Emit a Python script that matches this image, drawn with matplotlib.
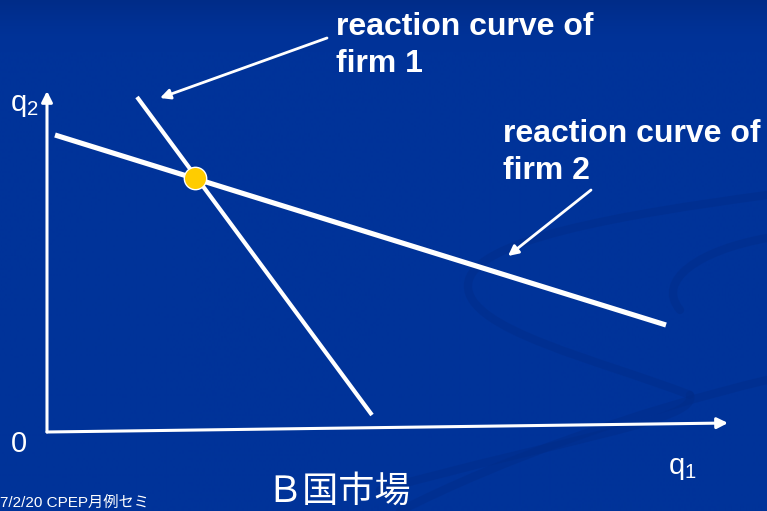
import numpy as np
import matplotlib
matplotlib.use('Agg')
import matplotlib.pyplot as plt
from matplotlib.path import Path
from matplotlib.patches import PathPatch

plt.rcParams['font.family'] = ['Liberation Sans', 'Noto Sans CJK JP', 'DejaVu Sans']
plt.rcParams['mathtext.fontset'] = 'custom'
plt.rcParams['mathtext.rm'] = 'Liberation Sans'
plt.rcParams['mathtext.it'] = 'Liberation Sans'

# diagram positions (slide pixel grid, y grows downward)
origin = (47, 432)
q1_axis_end = (728, 423)
q2_axis_end = (47, 91)

firm1_x = [137, 372]
firm1_y = [97, 415]
firm2_x = [55, 666]
firm2_y = [135, 325]

nash_x = [195]
nash_y = [178]

label1_lines = ['reaction curve of', 'firm 1']
label2_lines = ['reaction curve of', 'firm 2']
pointer1 = [(327, 38), (160, 98)]
pointer2 = [(591, 190), (508, 256)]

title_text = 'Ｂ国市場'
footer_text = '7/2/20 CPEP月例セミ'

BG = '#003399'
SWIRL = '#002c88'

fig = plt.figure(figsize=(7.67, 5.11), dpi=100)
ax = fig.add_axes([0, 0, 1, 1])
ax.set_xlim(0, 767)
ax.set_ylim(511, 0)
ax.axis('off')

# background: slightly darker shade at the very top of the slide
top = np.array([0, 44, 136]) / 255
mid = np.array([0, 51, 153]) / 255
t = np.clip(np.linspace(0, 1, 512) / 0.1, 0, 1)
t = np.sin(t * np.pi / 2)[:, None]
grad = (top * (1 - t) + mid * t)[:, None, :]
ax.imshow(np.repeat(grad, 2, axis=1), extent=[0, 767, 511, 0], aspect='auto',
          interpolation='bilinear', zorder=0)

# faint swirl decoration
swirls = [
    [(767, 195), (620, 215), (470, 240), (468, 285), (466, 330), (600, 360), (690, 395)],
    [(690, 395), (700, 420), (560, 440), (380, 490)],
    [(767, 238), (700, 250), (655, 280), (680, 310)],
    [(767, 380), (640, 410), (500, 460), (400, 511)],
]
for pts in swirls:
    n = len(pts)
    codes = [Path.MOVETO] + [Path.CURVE4] * (n - 1)
    ax.add_patch(PathPatch(Path(pts, codes), fill=False, edgecolor=SWIRL,
                           lw=6, alpha=0.45, capstyle='round', zorder=1))

# axes of the diagram
ax.annotate('', xy=q1_axis_end, xytext=origin,
            arrowprops=dict(arrowstyle='-|>', color='white', lw=2.2,
                            mutation_scale=16, shrinkA=0, shrinkB=0), zorder=3)
ax.annotate('', xy=q2_axis_end, xytext=origin,
            arrowprops=dict(arrowstyle='-|>', color='white', lw=2.2,
                            mutation_scale=16, shrinkA=0, shrinkB=0), zorder=3)

# reaction curves
ax.plot(firm1_x, firm1_y, color='white', lw=3.0, solid_capstyle='butt', zorder=3)
ax.plot(firm2_x, firm2_y, color='white', lw=3.7, solid_capstyle='butt', zorder=3)
ax.scatter(nash_x, nash_y, s=260, color='#FFCC00', edgecolor='white', lw=1.0, zorder=4)

# pointers to the labels
for tail, head in (pointer1, pointer2):
    ax.annotate('', xy=head, xytext=tail,
                arrowprops=dict(arrowstyle='-|>', color='white', lw=2.0,
                                mutation_scale=15, shrinkA=0, shrinkB=0), zorder=3)

ax.text(336, 35, label1_lines[0], color='white', fontsize=23, fontweight='bold', va='baseline')
ax.text(336, 72, label1_lines[1], color='white', fontsize=23, fontweight='bold', va='baseline')
ax.text(503, 142, label2_lines[0], color='white', fontsize=23, fontweight='bold', va='baseline')
ax.text(503, 179, label2_lines[1], color='white', fontsize=23, fontweight='bold', va='baseline')

ax.text(10, 111, r'q$_{2}$', color='white', fontsize=21, va='baseline')
ax.text(668, 474, r'q$_{1}$', color='white', fontsize=21, va='baseline')
ax.text(11, 452, '0', color='white', fontsize=21, va='baseline')

ax.text(339, 510, title_text, color='white', fontsize=26, ha='center', va='bottom',
        family=['Noto Sans CJK JP', 'DejaVu Sans'])
ax.text(0, 510, footer_text, color='white', fontsize=11, va='bottom',
        family=['Liberation Sans', 'Noto Sans CJK JP'])

fig.savefig('out.png', dpi=100, facecolor=BG)
